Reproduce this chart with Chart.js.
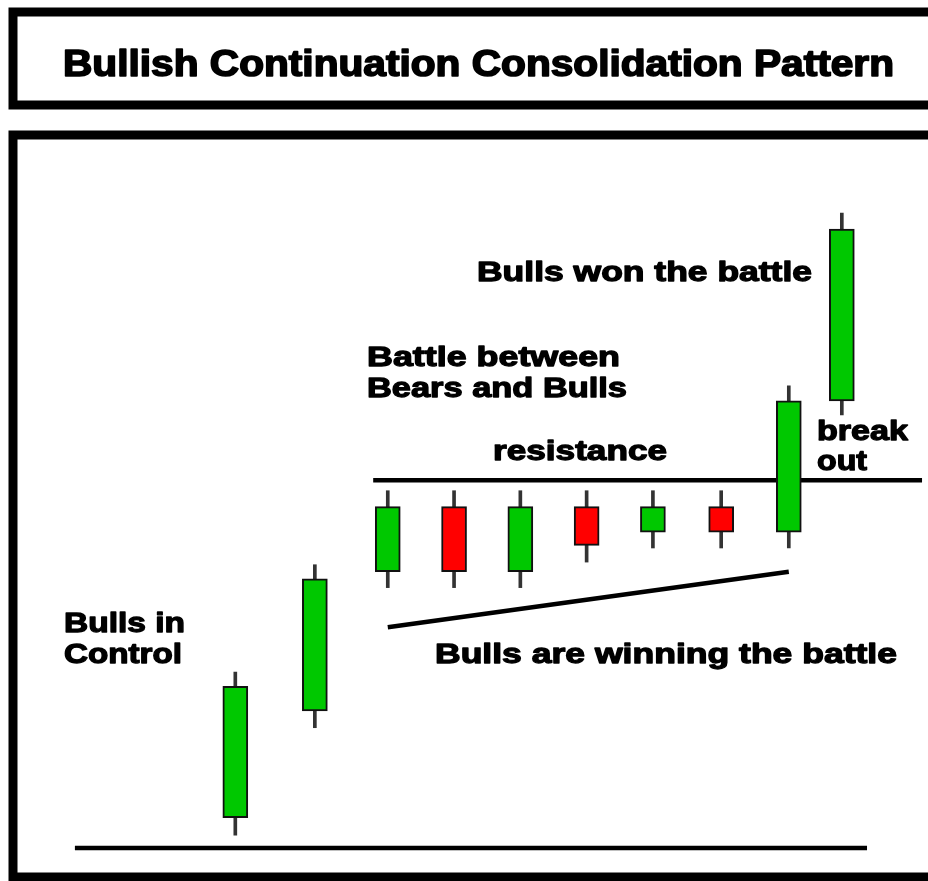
<!DOCTYPE html>
<html>
<head>
<meta charset="utf-8">
<title>Bullish Continuation Consolidation Pattern</title>
<script src="https://cdn.jsdelivr.net/npm/chart.js@4.4.1/dist/chart.umd.min.js"></script>
<style>
  html, body { margin: 0; padding: 0; background: #fff; }
  canvas { display: block; }
</style>
</head>
<body>
<canvas id="patternChart" width="928" height="881"></canvas>
<script>
// candle data (x = session, y = price units)
const sessions = [3.7, 4.9, 6, 7, 8, 9, 10, 11.03, 12.05, 12.85];
const opens  = [7.2, 19.3, 35.1, 42.5, 35.1, 42.5, 39.6, 42.5, 39.6, 54.5];
const closes = [22.1, 34.3, 42.5, 35.1, 42.5, 38.1, 42.5, 39.6, 54.5, 74.0];
const highs  = [23.7, 35.9, 44.3, 44.3, 44.3, 44.3, 44.3, 44.3, 56.2, 75.8];
const lows   = [5.2, 17.4, 33.3, 33.3, 33.3, 36.2, 37.8, 37.8, 37.8, 52.9];

// reference lines
const resistanceX = [5.78, 14.06];
const resistanceY = [45.5, 45.5];
const supportX = [6.0, 12.05];
const supportY = [28.8, 35.1];
const baseX = [1.28, 13.23];
const baseY = [3.75, 3.75];

const GREEN = '#00c800';
const RED = '#ff0000';

// text labels: [text, left, baseline, width, font size]
const labels = [
  ['Bullish Continuation Consolidation Pattern', 63, 76, 831, 36],
  ['Bulls won the battle', 477, 281, 335, 28],
  ['Battle between', 367, 366, 253, 28],
  ['Bears and Bulls', 367, 397, 260, 28],
  ['resistance', 493, 460, 174, 28],
  ['break', 817, 440, 91, 28],
  ['out', 817, 470, 50, 28],
  ['Bulls in', 64, 632, 121, 28],
  ['Control', 64, 663, 118, 28],
  ['Bulls are winning the battle', 435, 663, 462, 28]
];

const pts = (xs, ys) => xs.map((x, i) => ({ x: x, y: ys[i] }));

const framePlugin = {
  id: 'frames',
  beforeDraw(chart) {
    const c = chart.ctx;
    c.save();
    c.fillStyle = '#fff';
    c.fillRect(0, 0, chart.width, chart.height);
    c.strokeStyle = '#000';
    c.lineWidth = 9;
    c.strokeRect(13, 12, 940, 93);
    c.strokeRect(13, 135, 940, 742);
    c.restore();
  },
  afterDraw(chart) {
    const c = chart.ctx;
    c.save();
    c.fillStyle = '#000';
    c.strokeStyle = '#000';
    c.lineJoin = 'round';
    c.textBaseline = 'alphabetic';
    labels.forEach(([text, x, y, w, size]) => {
      c.font = 'bold ' + size + 'px "Liberation Sans", Arial, sans-serif';
      const natural = c.measureText(text).width;
      c.save();
      c.translate(x, y);
      c.scale(w / natural, 1);
      c.lineWidth = size / 22;
      c.fillText(text, 0, 0);
      c.strokeText(text, 0, 0);
      c.restore();
    });
    c.restore();
  }
};

const lineStyle = {
  type: 'line',
  borderColor: '#000',
  borderWidth: 4.5,
  pointRadius: 0,
  borderCapStyle: 'butt',
  fill: false,
  order: 3
};

new Chart(document.getElementById('patternChart').getContext('2d'), {
  type: 'bar',
  data: {
    datasets: [
      Object.assign({ label: 'resistance', data: pts(resistanceX, resistanceY) }, lineStyle),
      Object.assign({ label: 'support', data: pts(supportX, supportY) }, lineStyle),
      Object.assign({ label: 'base', data: pts(baseX, baseY) }, lineStyle),
      {
        label: 'wicks',
        data: sessions.map((x, i) => ({ x: x, y: [lows[i], highs[i]] })),
        backgroundColor: '#333',
        borderWidth: 0,
        barThickness: 3,
        grouped: false,
        order: 2
      },
      {
        label: 'bodies',
        data: sessions.map((x, i) => ({ x: x, y: [opens[i], closes[i]] })),
        backgroundColor: closes.map((c, i) => c >= opens[i] ? GREEN : RED),
        borderColor: '#111',
        borderWidth: 2,
        borderSkipped: false,
        barThickness: 25,
        grouped: false,
        order: 1
      }
    ]
  },
  options: {
    responsive: false,
    animation: false,
    layout: { padding: 0 },
    scales: {
      x: { type: 'linear', min: 0.15, max: 14.15, display: false, offset: false },
      y: { type: 'linear', min: 0, max: 100, display: false }
    },
    plugins: {
      legend: { display: false },
      tooltip: { enabled: false }
    }
  },
  plugins: [framePlugin]
});
</script>
</body>
</html>
